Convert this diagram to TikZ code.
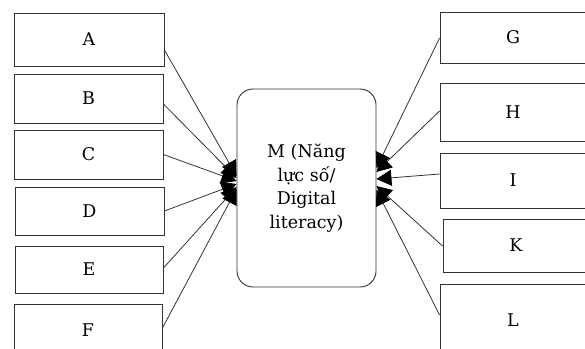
\documentclass[tikz,border=0pt]{standalone}
\usepackage{fontspec}
\setmainfont{DejaVu Serif}
\usetikzlibrary{arrows.meta}
\begin{document}
\begin{tikzpicture}[x=1pt,y=-1pt,
  box/.style={draw=black!80, line width=0.9pt, rectangle, inner sep=0pt, font=\fontsize{17.5}{20}\selectfont},
  mbox/.style={draw=black!80, line width=0.9pt, rectangle, rounded corners=16pt, inner sep=0pt, align=center, font=\fontsize{17.5}{23.5}\selectfont},
  conn/.style={draw=black!80, line width=0.8pt, -{Triangle[length=15pt,width=16pt,color=black]}}]
\useasboundingbox (0,0) rectangle (585,348);
% left boxes
\node[box, minimum width=150pt, minimum height=53pt] (A) at (89,39.5) {A};
\node[box, minimum width=149pt, minimum height=49pt] (B) at (88.5,98.5) {B};
\node[box, minimum width=149pt, minimum height=49pt] (C) at (88.5,154.5) {C};
\node[box, minimum width=149pt, minimum height=48pt] (D) at (89.5,211) {D};
\node[box, minimum width=148pt, minimum height=47pt] (E) at (89,269.5) {E};
\node[box, minimum width=148pt, minimum height=52pt] (F) at (88,330) {F};
% right boxes
\node[box, minimum width=146pt, minimum height=51pt] (G) at (513,37.5) {G};
\node[box, minimum width=146pt, minimum height=58pt] (H) at (513,112) {H};
\node[box, minimum width=146pt, minimum height=55pt] (I) at (513,180.5) {I};
\node[box, minimum width=146pt, minimum height=53pt] (K) at (516,245.5) {K};
\node[box, minimum width=146pt, minimum height=72pt] (L) at (513,320) {L};
% centre
\node[mbox, minimum width=139pt, minimum height=198pt] (M) at (306.5,188) {M (Năng\\lực số/\\Digital\\literacy)};
% tips
\coordinate (tA) at ([yshift=12pt]M.west);
\coordinate (tB) at ([yshift=10pt]M.west);
\coordinate (tC) at ([yshift=7pt]M.west);
\coordinate (tD) at ([yshift=4pt]M.west);
\coordinate (tE) at ([yshift=1pt]M.west);
\coordinate (tF) at ([yshift=-1pt]M.west);
\coordinate (tG) at ([yshift=20pt]M.east);
\coordinate (tH) at ([yshift=16pt]M.east);
\coordinate (tI) at ([yshift=9pt]M.east);
\coordinate (tK) at ([yshift=2pt]M.east);
\coordinate (tL) at ([yshift=-2pt]M.east);
% connectors
\draw[conn] ([yshift=-10.5pt]A.east) -- (tA);
\draw[conn] ([yshift=-5.5pt]B.east) -- (tB);
\draw[conn] ([yshift=0pt]C.east) -- (tC);
\draw[conn] ([yshift=0pt]D.east) -- (tD);
\draw[conn] ([yshift=1.5pt]E.east) -- (tE);
\draw[conn] ([yshift=2pt]F.east) -- (tF);
\draw[conn] ([yshift=-0.5pt]G.west) -- (tG);
\draw[conn] ([yshift=1pt]H.west) -- (tH);
\draw[conn] ([yshift=6.5pt]I.west) -- (tI);
\draw[conn] ([yshift=-0.5pt]K.west) -- (tK);
\draw[conn] ([yshift=5pt]L.west) -- (tL);
\end{tikzpicture}
\end{document}
